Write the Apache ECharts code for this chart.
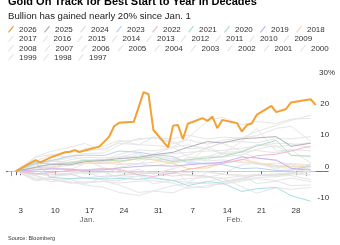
<!DOCTYPE html>
<html>
<head>
<meta charset="utf-8">
<script src="https://cdn.jsdelivr.net/npm/echarts@6/dist/echarts.min.js"></script>
<style>
  html, body { margin: 0; padding: 0; background: #fff; }
  #chart { width: 340px; height: 245px; }
</style>
</head>
<body>
<div id="chart"></div>
<script>
// x = calendar day of the year (1 = Jan 1), y = % change since start of year

// 2026
var days2026 = [2,6,7,9,12,13,14,15,16,19,21,22,23,26,27,28,29,30,33,34,35,36,37,40,41,42,43,44,47,48,49,50,51,54,55,57,58,62,63];
var pct2026 = [0,3.5,2.8,4.3,6.0,6.2,6.7,6.1,6.6,7.8,11.0,14.3,15.4,15.7,20.4,25.2,24.5,13.1,7.6,14.5,14.7,10.2,15.1,16.9,16.0,17.4,13.7,16.3,15.3,12.6,14.7,15.2,17.9,20.8,18.8,19.8,21.9,22.9,21.1];

// earlier years, sampled on these days
var pastDays = [2,6,9,13,16,20,23,27,30,34,37,41,44,48,51,55,58,62];
var y2025 = [0,1.2,2.2,2.0,3.0,3.4,4.0,4.4,5.2,6.0,7.6,9.4,9.0,10.3,10.6,11.0,7.9,8.9];
var y2024 = [0,-1.0,-1.2,-0.9,-2.2,-1.6,-1.4,-1.0,-0.6,-1.6,-1.1,-1.6,-3.3,-2.3,-1.3,-1.2,-0.9,2.4];
var y2023 = [0,2.4,3.3,4.8,5.1,5.0,6.4,6.0,5.3,4.6,2.6,2.5,2.1,0.8,1.0,0.2,0.3,1.6];
var y2022 = [0,-0.8,-0.5,0.2,0.3,0.8,0.6,-1.2,-1.7,-0.6,0.5,1.6,2.5,3.6,4.9,5.4,6.4,8.0];
var y2021 = [0,2.6,-2.0,-2.4,-2.2,-2.5,-2.3,-2.6,-2.1,-3.0,-4.6,-3.4,-3.8,-6.5,-5.6,-5.2,-7.8,-9.6];
var y2020 = [0,2.8,2.2,2.6,3.4,3.6,3.2,4.0,4.6,3.0,3.6,4.2,4.6,6.2,8.0,9.8,5.0,4.8];
var y2019 = [0,0.4,0.8,0.6,0.3,0.4,1.0,1.5,1.8,1.6,2.0,2.5,2.8,4.5,4.2,3.5,0.9,0.3];
var y2018 = [0,1.2,1.0,2.6,2.6,2.5,2.8,4.0,3.6,2.4,0.8,1.0,2.4,3.8,2.6,1.8,1.3,1.6];
var y2017 = [0,1.4,2.0,3.6,4.4,4.2,4.3,3.5,4.8,5.6,6.0,6.4,6.6,7.3,8.0,8.9,8.8,7.3];
var y2016 = [0,2.6,3.4,2.4,3.6,3.0,4.6,4.5,5.4,7.6,10.6,16.0,17.2,14.8,15.8,15.2,16.6,16.8];
var y2015 = [0,2.4,3.0,4.2,7.2,8.0,9.8,8.4,8.2,7.6,4.6,3.2,3.6,2.8,2.9,0.6,2.4,2.0];
var y2014 = [0,2.0,1.6,3.0,3.3,3.6,4.5,5.8,3.5,4.0,5.2,7.3,9.2,9.4,9.0,10.4,10.3,11.0];
var y2013 = [0,-1.2,-0.5,-0.9,0.4,1.0,0.2,-0.7,-0.5,-0.5,-1.4,-1.8,-2.2,-5.0,-7.0,-5.3,-5.8,-5.2];
var y2012 = [0,3.2,5.0,4.5,5.6,5.8,8.2,10.4,10.5,10.3,11.5,10.2,10.8,10.6,11.3,13.6,14.3,9.5];
var y2011 = [0,-3.0,-2.6,-3.8,-3.8,-3.3,-4.4,-6.8,-6.3,-4.6,-4.0,-3.3,-2.3,-1.6,-1.4,-0.8,-0.8,-0.2];
var y2010 = [0,2.0,3.0,4.8,3.6,1.0,-0.5,0.6,-1.0,0.8,-3.6,-0.4,-0.8,2.0,2.6,1.4,2.0,0.4];
var y2009 = [0,-1.4,-3.4,-2.6,-4.0,-2.0,2.4,2.2,5.0,3.8,3.4,3.6,5.4,9.6,13.6,6.4,6.8,2.6];
var y2008 = [0,4.6,6.2,7.6,8.8,6.6,9.4,10.0,10.8,8.8,10.0,8.6,9.8,10.6,12.6,14.6,16.2,17.8];
var y2007 = [0,-3.0,-2.0,-0.6,0.4,0.4,1.2,2.4,2.8,3.4,3.5,4.8,4.4,5.2,7.0,8.2,5.1,4.6];
var y2006 = [0,4.4,5.2,5.9,6.3,7.2,8.9,8.4,10.8,9.3,7.2,7.4,8.9,6.3,8.5,7.6,8.4,9.0];
var y2005 = [0,-2.6,-2.6,-3.7,-3.4,-3.3,-3.8,-3.2,-3.0,-3.8,-5.5,-4.6,-4.0,-2.8,-2.0,-1.8,-0.9,-1.2];
var y2004 = [0,-1.5,1.2,0.0,-0.6,-0.4,-2.0,-1.6,-4.0,-2.9,-2.4,-2.0,-1.0,-1.2,-4.0,-3.2,-4.6,-4.4];
var y2003 = [0,1.2,3.6,2.4,3.4,3.6,5.4,6.8,6.4,7.6,8.4,7.0,5.6,4.8,2.2,1.2,0.9,-0.4];
var y2002 = [0,0.9,1.2,1.8,2.4,2.6,2.1,2.5,1.6,2.7,4.2,4.6,6.0,6.2,6.6,5.8,6.8,6.5];
var y2001 = [0,-2.2,-2.6,-2.4,-2.0,-2.9,-3.1,-1.4,-2.3,-3.1,-3.5,-4.0,-4.2,-3.2,-2.4,-3.0,-2.2,-3.4];
var y2000 = [0,-0.6,-1.7,-1.2,-0.3,-2.2,-1.2,-0.4,-0.8,0.8,2.2,8.0,5.4,6.0,4.2,3.4,1.6,0.6];
var y1999 = [0,0.6,0.4,0.8,-0.9,-0.4,-0.5,-0.3,-0.6,-0.8,-0.4,-0.2,-1.0,-1.5,-1.0,-1.4,-0.3,-1.2];
var y1998 = [0,1.3,1.4,0.4,2.4,2.8,3.6,5.2,4.0,2.4,3.3,2.0,3.0,2.9,2.2,2.5,2.4,1.2];
var y1997 = [0,-1.4,-2.6,-3.4,-4.4,-5.2,-6.8,-7.8,-6.4,-6.9,-5.0,-5.3,-3.6,-2.6,-1.2,-1.6,-1.4,-2.7];

// axis labels
var dayLabelDays = [3,10,17,24,31,38,45,52,59];
var dayTickDays = [1,2,3,10,17,24,31,32,38,45,52,59,61];
var monthNames = ['Jan.', 'Feb.'];
var monthLabelDays = [16.5, 46.5];
var monthEdgeDays = [1, 32, 61];

var legendRows = [
    ['2026','2025','2024','2023','2022','2021','2020','2019','2018'],
    ['2017','2016','2015','2014','2013','2012','2011','2010','2009'],
    ['2008','2007','2006','2005','2004','2003','2002','2001','2000'],
    ['1999','1998','1997']
];

var pastYears = {
    '2025': y2025, '2024': y2024, '2023': y2023, '2022': y2022, '2021': y2021,
    '2020': y2020, '2019': y2019, '2018': y2018, '2017': y2017, '2016': y2016,
    '2015': y2015, '2014': y2014, '2013': y2013, '2012': y2012, '2011': y2011,
    '2010': y2010, '2009': y2009, '2008': y2008, '2007': y2007, '2006': y2006,
    '2005': y2005, '2004': y2004, '2003': y2003, '2002': y2002, '2001': y2001,
    '2000': y2000, '1999': y1999, '1998': y1998, '1997': y1997
};

// colours
var colorNow = '#f5a032';
var highlight = {
    '2025': '#b3b0ba',
    '2024': '#dedede',
    '2023': '#b9d3ee',
    '2022': '#f1b9d0',
    '2021': '#a9dde9',
    '2020': '#b5dcbf',
    '2019': '#c7b4f0',
    '2018': '#fbd8a6'
};
var greyLine = '#e6e6e6';
var font = '"Liberation Sans", Arial, sans-serif';

function dayOfMonth(d) {
    if (d <= 31) return d;
    if (d <= 59) return d - 31;
    return d - 59;
}

var series = [];
// plain grey years first so coloured ones sit on top
var order = ['2017','2016','2015','2014','2013','2012','2011','2010','2009','2008','2007','2006','2005',
             '2004','2003','2002','2001','2000','1999','1998','1997',
             '2024','2018','2023','2021','2019','2020','2022','2025'];
order.forEach(function (yr) {
    var vals = pastYears[yr];
    series.push({
        name: yr,
        type: 'line',
        showSymbol: false,
        symbol: 'none',
        data: pastDays.map(function (d, i) { return [d, vals[i]]; }),
        lineStyle: { width: 1, color: highlight[yr] || greyLine },
        itemStyle: { color: highlight[yr] || greyLine },
        emphasis: { disabled: true }
    });
});
series.push({
    name: '2026',
    type: 'line',
    symbol: 'none',
    data: days2026.map(function (d, i) { return [d, pct2026[i]]; }),
    lineStyle: { width: 2, color: colorNow },
    itemStyle: { color: colorNow },
    emphasis: { disabled: true }
});

var legendTops = [24.3, 33.7, 43.3, 52.3];
var legendGaps = [7.2, 5.7, 7.7, 6.2];
var legends = legendRows.map(function (row, i) {
    return {
        data: row,
        left: 8,
        top: legendTops[i],
        padding: 0,
        itemGap: legendGaps[i],
        itemWidth: 6,
        itemHeight: 7,
        icon: 'path://M0,10L8,0L9.6,1.2L1.6,11.2Z',
        selectedMode: false,
        textStyle: { fontSize: 8, color: '#333', fontFamily: font, lineHeight: 10 }
    };
});

var myChart = echarts.init(document.getElementById('chart'));
var option = {
    animation: false,
    backgroundColor: '#fff',
    title: [
        {
            text: 'Gold On Track for Best Start to Year in Decades',
            left: 8, top: -4, padding: 0,
            textStyle: { fontSize: 11, fontWeight: 'bold', color: '#000', fontFamily: font }
        },
        {
            text: 'Bullion has gained nearly 20% since Jan. 1',
            left: 8, top: 11.5, padding: 0,
            textStyle: { fontSize: 9.6, fontWeight: 'normal', color: '#222', fontFamily: font }
        },
        {
            text: 'Source: Bloomberg',
            left: 8, top: 235.5, padding: 0,
            textStyle: { fontSize: 5.5, fontWeight: 'normal', color: '#333', fontFamily: font }
        }
    ],
    legend: legends,
    grid: { left: 8.45, right: 24.4, top: 77, bottom: 42.5 },
    xAxis: [
        {
            type: 'value', min: 0.5, max: 63,
            splitLine: { show: false },
            axisLine: { show: true, lineStyle: { color: '#ccc', width: 1 } },
            axisTick: { show: true, customValues: dayTickDays, length: 4, lineStyle: { color: '#666' } },
            axisLabel: {
                customValues: dayLabelDays, margin: 4,
                fontSize: 8, color: '#333', fontFamily: font,
                formatter: function (v) { return String(dayOfMonth(v)); }
            }
        },
        {
            type: 'value', min: 0.5, max: 63, position: 'bottom', offset: 15,
            splitLine: { show: false },
            axisLine: { show: false },
            axisTick: { show: true, customValues: monthEdgeDays, length: 5, lineStyle: { color: '#999', width: 1 } },
            axisLabel: {
                customValues: monthLabelDays, margin: -2,
                fontSize: 8, color: '#666', fontFamily: font,
                formatter: function (v) { return monthNames[monthLabelDays.indexOf(v)]; }
            }
        }
    ],
    yAxis: [
        {
            type: 'value', position: 'right', min: -10, max: 30, interval: 10,
            axisLine: { show: false },
            axisTick: { show: true, customValues: [0], length: 13, lineStyle: { color: '#777' } },
            splitLine: { show: true, lineStyle: { color: '#e2e2e2', width: 1 } },
            axisLabel: {
                align: 'left', verticalAlign: 'bottom', margin: 1.5,
                formatter: function (v) { return v === 30 ? '{w|30%}' : '{n|' + v + '}'; },
                rich: {
                    n: { width: 12, align: 'right', fontSize: 8, lineHeight: 9, color: '#333', fontFamily: font },
                    w: { width: 18, align: 'right', fontSize: 8, lineHeight: 9, color: '#333', fontFamily: font }
                }
            }
        },
        {
            type: 'value', position: 'left', min: -10, max: 30, interval: 10,
            axisLine: { show: false },
            axisLabel: { show: false },
            splitLine: { show: false },
            axisTick: { show: true, customValues: [0], length: 2.5, lineStyle: { color: '#777' } }
        }
    ],
    series: series
};
myChart.setOption(option);
</script>
</body>
</html>
